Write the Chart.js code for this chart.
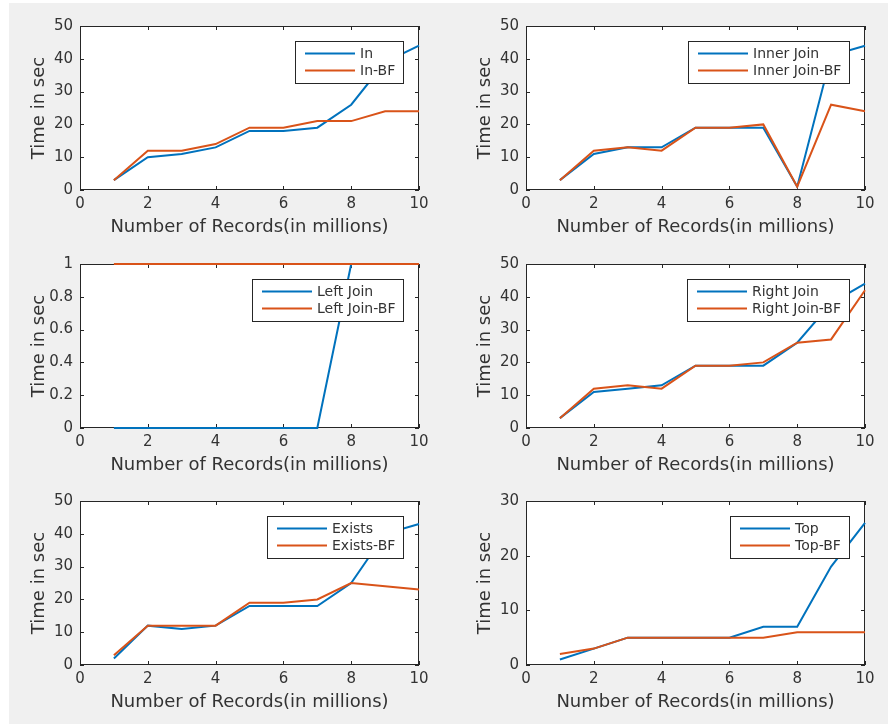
<!DOCTYPE html>
<html>
<head>
<meta charset="utf-8">
<script src="https://cdn.jsdelivr.net/npm/chart.js@4.4.1/dist/chart.umd.min.js"></script>
<style>
  body { margin: 0; background: #fff; }
  #fig { position: absolute; left: 9px; top: 3px; width: 879px; height: 721px; background: #f0f0f0; }
  .panel { position: absolute; width: 439px; height: 230px; }
</style>
</head>
<body>
<div id="fig"></div>
<div class="panel" style="left:0px;top:10px"><canvas id="c1" width="439" height="230"></canvas></div>
<div class="panel" style="left:446px;top:10px"><canvas id="c2" width="439" height="230"></canvas></div>
<div class="panel" style="left:0px;top:248px"><canvas id="c3" width="439" height="230"></canvas></div>
<div class="panel" style="left:446px;top:248px"><canvas id="c4" width="439" height="230"></canvas></div>
<div class="panel" style="left:0px;top:485px"><canvas id="c5" width="439" height="230"></canvas></div>
<div class="panel" style="left:446px;top:485px"><canvas id="c6" width="439" height="230"></canvas></div>
<script>
// records in millions
const records = [1, 2, 3, 4, 5, 6, 7, 8, 9, 10];

const inTime = [3, 10, 11, 13, 18, 18, 19, 26, 39, 44];
const inBF = [3, 12, 12, 14, 19, 19, 21, 21, 24, 24];
const innerJoin = [3, 11, 13, 13, 19, 19, 19, 1, 41, 44];
const innerJoinBF = [3, 12, 13, 12, 19, 19, 20, 1, 26, 24];
const leftJoin = [0, 0, 0, 0, 0, 0, 0, 1, 1, 1];
const leftJoinBF = [1, 1, 1, 1, 1, 1, 1, 1, 1, 1];
const rightJoin = [3, 11, 12, 13, 19, 19, 19, 26, 38, 44];
const rightJoinBF = [3, 12, 13, 12, 19, 19, 20, 26, 27, 42];
const exists = [2, 12, 11, 12, 18, 18, 18, 25, 40, 43];
const existsBF = [3, 12, 12, 12, 19, 19, 20, 25, 24, 23];
const topTime = [1, 3, 5, 5, 5, 5, 7, 7, 18, 26];
const topBF = [2, 3, 5, 5, 5, 5, 5, 6, 6, 6];

const xTicks = [0, 2, 4, 6, 8, 10];

const FONT = "'DejaVu Sans', sans-serif";
const AXIS = "#262626";
const TEXT = "#333";
const BLUE = "#0072BD";
const ORANGE = "#D95319";

// white axes, box with inward ticks, legend in the upper right
const matlabAxes = {
  id: "matlabAxes",
  beforeDraw(chart) {
    const { ctx, chartArea: a } = chart;
    ctx.save();
    ctx.fillStyle = "#fff";
    ctx.fillRect(a.left, a.top, a.right - a.left, a.bottom - a.top);
    ctx.restore();
  },
  beforeDatasetsDraw(chart) {
    const { ctx, chartArea: a } = chart;
    const x = chart.scales.x;
    const y = chart.scales.y;
    ctx.save();
    ctx.strokeStyle = AXIS;
    ctx.lineWidth = 1;
    ctx.strokeRect(a.left + 0.5, a.top + 0.5, a.right - a.left - 1, a.bottom - a.top - 1);
    ctx.beginPath();
    x.ticks.forEach((t) => {
      const px = Math.round(x.getPixelForValue(t.value)) + 0.5;
      ctx.moveTo(px, a.bottom);
      ctx.lineTo(px, a.bottom - 4);
      ctx.moveTo(px, a.top);
      ctx.lineTo(px, a.top + 4);
    });
    y.ticks.forEach((t) => {
      const py = Math.round(y.getPixelForValue(t.value)) + 0.5;
      ctx.moveTo(a.left, py);
      ctx.lineTo(a.left + 4, py);
      ctx.moveTo(a.right, py);
      ctx.lineTo(a.right - 4, py);
    });
    ctx.stroke();
    ctx.restore();
  },
  afterDraw(chart) {
    const { ctx, chartArea: a } = chart;
    const ds = chart.data.datasets;
    ctx.save();
    ctx.font = "14px " + FONT;
    let tw = 0;
    ds.forEach((d) => { tw = Math.max(tw, ctx.measureText(d.label).width); });
    const w = Math.round(10 + 50 + 5 + tw + 8);
    const h = 42;
    const bx = a.right - 16 - w;
    const by = a.top + 15;
    ctx.fillStyle = "#fff";
    ctx.fillRect(bx, by, w, h);
    ctx.strokeStyle = AXIS;
    ctx.lineWidth = 1;
    ctx.strokeRect(bx + 0.5, by + 0.5, w, h);
    ds.forEach((d, i) => {
      const ly = by + 12.5 + i * 17;
      ctx.strokeStyle = d.borderColor;
      ctx.lineWidth = 2;
      ctx.beginPath();
      ctx.moveTo(bx + 10, ly);
      ctx.lineTo(bx + 60, ly);
      ctx.stroke();
      ctx.fillStyle = TEXT;
      ctx.textBaseline = "middle";
      ctx.fillText(d.label, bx + 65, ly + 1);
    });
    ctx.restore();
  },
};

function makePanel(id, name, blue, orange, yMax, yStep) {
  new Chart(document.getElementById(id), {
    type: "line",
    data: {
      labels: records,
      datasets: [
        { label: name, data: blue, borderColor: BLUE, borderWidth: 2, pointRadius: 0, tension: 0, clip: 3, order: 1 },
        { label: name + "-BF", data: orange, borderColor: ORANGE, borderWidth: 2, pointRadius: 0, tension: 0, clip: 3, order: 0 },
      ],
    },
    options: {
      responsive: false,
      animation: false,
      devicePixelRatio: 1,
      layout: { padding: { top: 12, right: 20, left: 0, bottom: 0 } },
      plugins: { legend: { display: false }, tooltip: { enabled: false } },
      scales: {
        x: {
          type: "linear",
          min: 0,
          max: 10,
          afterBuildTicks: (s) => { s.ticks = xTicks.map((v) => ({ value: v })); },
          grid: { display: false, drawTicks: false },
          border: { display: false },
          ticks: { color: TEXT, font: { family: FONT, size: 15 }, padding: 5, maxRotation: 0 },
          title: { display: true, text: "Number of Records(in millions)", color: TEXT, font: { family: FONT, size: 18 }, padding: { top: 0, bottom: 2 } },
          afterFit: (s) => { s.height = 50; },
        },
        y: {
          min: 0,
          max: yMax,
          grid: { display: false, drawTicks: false },
          border: { display: false },
          ticks: {
            stepSize: yStep,
            color: TEXT,
            font: { family: FONT, size: 15 },
            padding: 7,
            callback: (v) => String(Math.round(v * 10) / 10),
          },
          title: { display: true, text: "Time in sec", color: TEXT, font: { family: FONT, size: 18 }, padding: { top: 29, bottom: 0 } },
          afterFit: (s) => { s.width = 80; },
        },
      },
    },
    plugins: [matlabAxes],
  });
}

// line charts need x/y pairs on a linear x axis
function pairs(vals) {
  return vals.map((v, i) => ({ x: records[i], y: v }));
}

makePanel("c1", "In", pairs(inTime), pairs(inBF), 50, 10);
makePanel("c2", "Inner Join", pairs(innerJoin), pairs(innerJoinBF), 50, 10);
makePanel("c3", "Left Join", pairs(leftJoin), pairs(leftJoinBF), 1, 0.2);
makePanel("c4", "Right Join", pairs(rightJoin), pairs(rightJoinBF), 50, 10);
makePanel("c5", "Exists", pairs(exists), pairs(existsBF), 50, 10);
makePanel("c6", "Top", pairs(topTime), pairs(topBF), 30, 10);
</script>
</body>
</html>
